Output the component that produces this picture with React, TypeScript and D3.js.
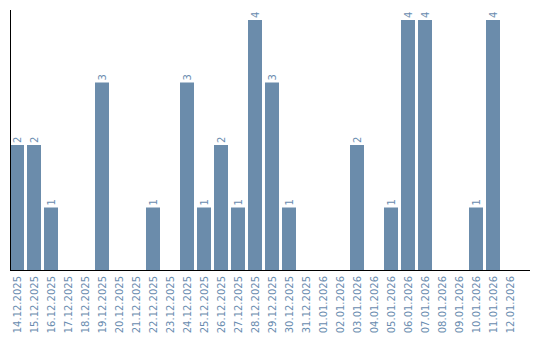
import React from "react";
import * as d3 from "d3";

const dates = [
  "14.12.2025","15.12.2025","16.12.2025","17.12.2025","18.12.2025","19.12.2025","20.12.2025","21.12.2025","22.12.2025","23.12.2025",
  "24.12.2025","25.12.2025","26.12.2025","27.12.2025","28.12.2025","29.12.2025","30.12.2025","31.12.2025","01.01.2026","02.01.2026",
  "03.01.2026","04.01.2026","05.01.2026","06.01.2026","07.01.2026","08.01.2026","09.01.2026","10.01.2026","11.01.2026","12.01.2026",
];
const counts = [2,2,1,0,0,3,0,0,1,0, 3,1,2,1,4,3,1,0,0,0, 2,0,1,4,4,0,0,1,4,0];

const W = 540, H = 340;
const left = 10, bandEnd = 517, axisEnd = 530, base = 270, top = 20, axisTop = 10;
const barColor = "#6b8cab";
const textColor = "#6a8caf";
const font = "DejaVu Sans, sans-serif";

export default function App() {
  const x = d3.scaleBand<string>().domain(dates).range([left, bandEnd]).paddingInner(3 / 17).paddingOuter(0).align(0);
  const y = d3.scaleLinear().domain([0, 4]).range([base, top]);
  const bw = x.bandwidth();
  return (
    <svg width={W} height={H} style={{ position: "absolute", left: 0, top: 0, display: "block" }}>
      {dates.map((d, i) =>
        counts[i] > 0 ? (
          <g key={d}>
            <rect x={x(d)} y={y(counts[i])} width={bw} height={base - y(counts[i])} fill={barColor} />
            <text
              transform={`translate(${(x(d) as number) + bw / 2},${y(counts[i]) - 2}) rotate(-90)`}
              dy="0.35em"
              fontSize={10}
              fontFamily={font}
              fill={textColor}
              textAnchor="start"
            >
              {counts[i]}
            </text>
          </g>
        ) : null
      )}
      <line x1={left + 0.5} x2={left + 0.5} y1={axisTop} y2={base} stroke="#000" strokeWidth={1} />
      <line x1={left} x2={axisEnd} y1={base + 0.5} y2={base + 0.5} stroke="#000" strokeWidth={1} />
      {dates.map((d) => (
        <text
          key={"t" + d}
          transform={`translate(${(x(d) as number) + bw / 2},${base + 6}) rotate(-90)`}
          dy="0.35em"
          fontSize={10}
          fontFamily={font}
          fill={textColor}
          textAnchor="end"
        >
          {d}
        </text>
      ))}
    </svg>
  );
}
